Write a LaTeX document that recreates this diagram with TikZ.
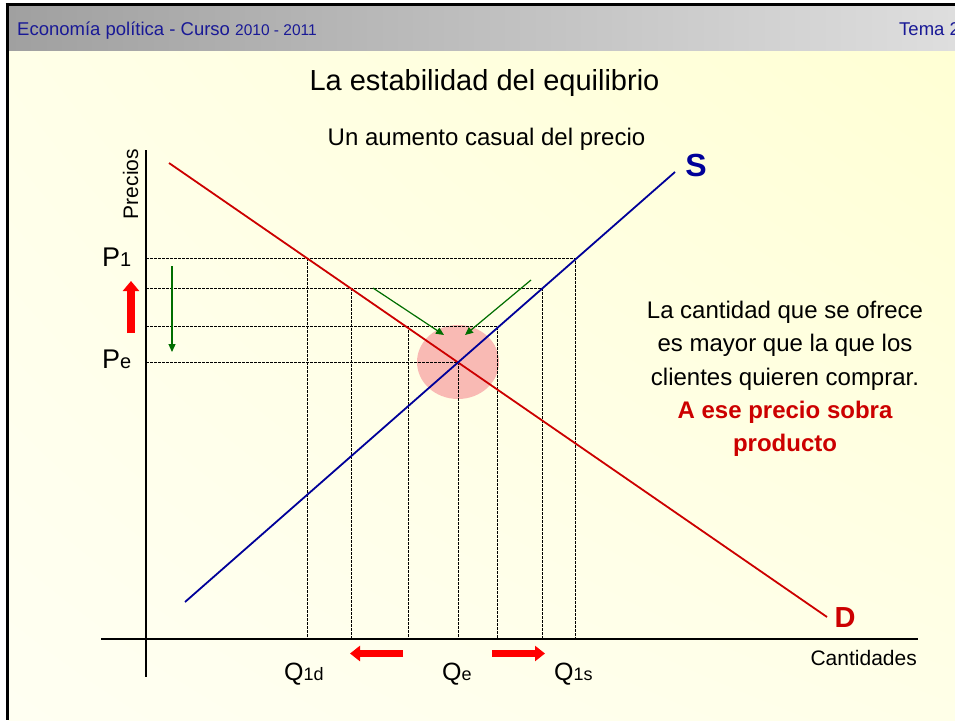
\documentclass[tikz,border=0pt]{standalone}
\usepackage{fontspec}
\setmainfont{Liberation Sans}
\usetikzlibrary{arrows.meta,shadings}
\definecolor{dred}{RGB}{204,0,0}
\definecolor{dblue}{RGB}{0,0,153}
\definecolor{dgreen}{RGB}{0,110,0}
\definecolor{hdrtext}{RGB}{25,25,150}
\definecolor{pinkfill}{RGB}{249,186,180}
\definecolor{bgA}{RGB}{255,255,232}
\definecolor{bgB}{RGB}{255,255,212}
\definecolor{bgC}{RGB}{255,255,242}
\definecolor{hdA}{RGB}{160,160,160}
\definecolor{hdB}{RGB}{208,208,208}
\definecolor{hdC}{RGB}{222,222,222}
\newcommand\fsz[1]{\fontsize{#1}{#1}\selectfont}
\begin{document}
\begin{tikzpicture}[x=1pt,y=-1pt,
  txt/.style={inner sep=0pt, anchor=base},
  dashline/.style={black, line width=0.8pt, dash pattern=on 2.5pt off 1.5pt},
  demand/.style={dred, line width=1.8pt},
  supply/.style={dblue, line width=1.8pt},
  axisline/.style={black, line width=1.8pt},
  greenarrow/.style={dgreen, line width=1.2pt, -{Triangle[length=8pt,width=7pt]}},
  redarrow/.style={red, line width=7pt, -{Triangle[length=10pt,width=15pt]}},
]
\useasboundingbox (0,0) rectangle (955,720);
\fill[white] (0,0) rectangle (955,720);
% background
\shade[upper left=bgA, upper right=bgB, lower left=bgC, lower right=bgA] (8,50) rectangle (955,720);
\shade[left color=hdA, middle color=hdB, right color=hdC] (8,6) rectangle (955,50);
\draw[line width=3pt] (5.5,4.5) -- (955,4.5);
\draw[line width=3pt] (7,3) -- (7,720);

% header texts
\node[txt, anchor=base west, text=hdrtext, font=\fsz{18.5}] (hdr) at (17,35) {Economía política - Curso {\fsz{15.5}2010 - 2011}};
\node[txt, anchor=base west, text=hdrtext, font=\fsz{18.5}] (tema) at (899,35) {Tema 2};

% coordinates
\coordinate (Dtop) at (169,163);
\coordinate (Dbot) at (827,617);
\coordinate (Sbot) at (185,602);
\coordinate (Stop) at (675,172);
\coordinate (Eq) at (458,362);
\coordinate (ytop) at (146,150);
\coordinate (ybot) at (146,677);
\coordinate (xl) at (101,639);
\coordinate (xr) at (918,639);

% equilibrium circle
\fill[pinkfill] (Eq) ellipse [x radius=41, y radius=37];

% dashed guide lines
\coordinate (h1a) at (146,258); \coordinate (h1b) at (575,258);
\coordinate (h2a) at (146,288); \coordinate (h2b) at (542,288);
\coordinate (h3a) at (146,326); \coordinate (h3b) at (497,326);
\coordinate (h4a) at (146,362);
\coordinate (v1t) at (307,258); \coordinate (v1b) at (307,639);
\coordinate (v2t) at (351,288); \coordinate (v2b) at (351,639);
\coordinate (v3t) at (408,326); \coordinate (v3b) at (408,639);
\coordinate (v4b) at (458,639);
\coordinate (v5b) at (497,639);
\coordinate (v6b) at (542,639);
\coordinate (v7b) at (575,639);
\draw[dashline] (h1a) -- (h1b) -- (v7b);
\draw[dashline] (h2a) -- (h2b) -- (v6b);
\draw[dashline] (h3a) -- (h3b) -- (v5b);
\draw[dashline] (h4a) -- (Eq) -- (v4b);
\draw[dashline] (v1t) -- (v1b);
\draw[dashline] (v2t) -- (v2b);
\draw[dashline] (v3t) -- (v3b);

% curves
\draw[demand] (Dtop) -- (Dbot);
\draw[supply] (Sbot) -- (Stop);

% axes
\draw[axisline] (ytop) -- (ybot);
\draw[black, line width=1.4pt] (xl) -- (xr);

% green arrows
\coordinate (g1s) at (373,288); \coordinate (g1e) at (444,335);
\coordinate (g2s) at (531,280); \coordinate (g2e) at (465,335);
\coordinate (g3s) at (172,266); \coordinate (g3e) at (172,352);
\draw[greenarrow] (g1s) -- (g1e);
\draw[greenarrow] (g2s) -- (g2e);
\draw[greenarrow] (g3s) -- (g3e);

% red block arrows
\coordinate (r1s) at (131,333); \coordinate (r1e) at (131,281);
\coordinate (r2s) at (403,653.5); \coordinate (r2e) at (350,653.5);
\coordinate (r3s) at (492,653.5); \coordinate (r3e) at (545,653.5);
\draw[redarrow, line width=8pt, -{Triangle[length=10pt,width=16pt]}] (r1s) -- (r1e);
\draw[redarrow] (r2s) -- (r2e);
\draw[redarrow] (r3s) -- (r3e);

% titles
\node[txt, font=\fsz{29}] (title) at (484.5,90) {La estabilidad del equilibrio};
\node[txt, font=\fsz{24}] (sub) at (486.5,145) {Un aumento casual del precio};

% curve labels
\node[inner sep=0pt, text=dblue, font=\fsz{32}\bfseries] (S) at (696,165) {S};
\node[inner sep=0pt, text=dred, font=\fsz{29}\bfseries] (D) at (845,617.5) {D};

% axis labels
\node[inner sep=0pt, rotate=90, font=\fsz{21}] (precios) at (130.5,184) {Precios};
\node[txt, anchor=base east, font=\fsz{21}] (cant) at (917,665) {Cantidades};
\node[txt, anchor=base west, font=\fsz{27}] (P1) at (102,266) {P{\fsz{20}1}};
\node[txt, anchor=base west, font=\fsz{27}] (Pe) at (102,368) {P{\fsz{20}e}};
\node[txt, anchor=base west, font=\fsz{25}] (Q1d) at (284,680) {Q{\fsz{18}1d}};
\node[txt, anchor=base west, font=\fsz{25}] (Qe) at (442,680) {Q{\fsz{18}e}};
\node[txt, anchor=base west, font=\fsz{25}] (Q1s) at (554,680) {Q{\fsz{18}1s}};

% explanation
\node[txt, font=\fsz{24}] (t1) at (785,318) {La cantidad que se ofrece};
\node[txt, font=\fsz{24}] (t2) at (785,351.5) {es mayor que la que los};
\node[txt, font=\fsz{24}] (t3) at (785,385) {clientes quieren comprar.};
\node[txt, text=dred, font=\fsz{24}\bfseries] (t4) at (785,418) {A ese precio sobra};
\node[txt, text=dred, font=\fsz{24}\bfseries] (t5) at (785,451.5) {producto};
\end{tikzpicture}
\end{document}
